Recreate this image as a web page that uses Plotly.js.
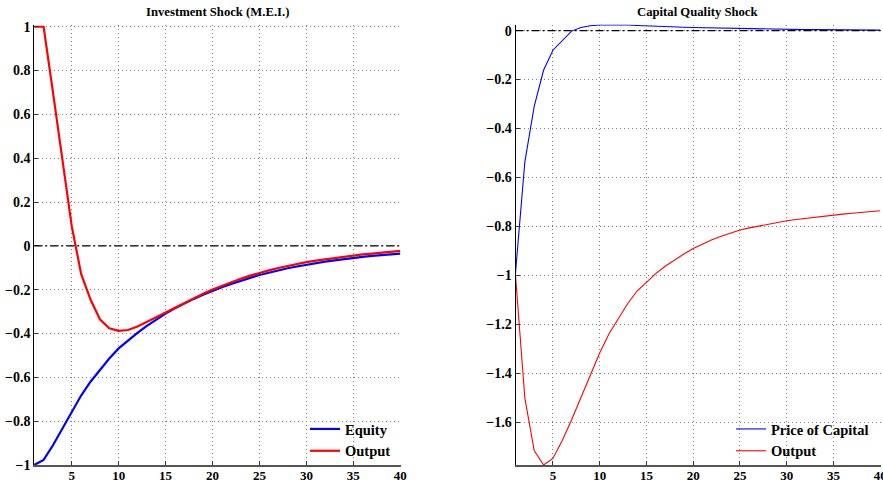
<!DOCTYPE html>
<html>
<head>
<meta charset="utf-8">
<script src="https://cdn.plot.ly/plotly-3.0.1.min.js"></script>
<style>html,body{margin:0;padding:0;background:#fff;}#chart{width:883px;height:485px;}</style>
</head>
<body>
<div id="chart"></div>
<script>
// Periods (quarters after shock)
const periods = [1,2,3,4,5,6,7,8,9,10,11,12,13,14,15,16,17,18,19,20,21,22,23,24,25,26,27,28,29,30,31,32,33,34,35,36,37,38,39,40];

// Investment Shock (M.E.I.)
const meiEquity = [-1.000,-0.977,-0.910,-0.833,-0.757,-0.683,-0.620,-0.565,-0.514,-0.468,
  -0.431,-0.397,-0.365,-0.335,-0.309,-0.285,-0.263,-0.242,-0.223,-0.205,
  -0.189,-0.174,-0.159,-0.146,-0.133,-0.122,-0.112,-0.102,-0.094,-0.086,
  -0.079,-0.072,-0.066,-0.060,-0.055,-0.050,-0.046,-0.042,-0.038,-0.035];
const meiOutput = [1.000,1.000,0.700,0.400,0.090,-0.128,-0.245,-0.335,-0.376,-0.388,
  -0.384,-0.368,-0.348,-0.326,-0.304,-0.282,-0.260,-0.239,-0.219,-0.199,
  -0.182,-0.166,-0.150,-0.136,-0.123,-0.112,-0.101,-0.091,-0.082,-0.074,
  -0.067,-0.061,-0.055,-0.049,-0.044,-0.039,-0.035,-0.031,-0.027,-0.023];

// Capital Quality Shock
const cqPriceCapital = [-0.990,-0.536,-0.310,-0.162,-0.080,-0.043,-0.002,0.013,0.020,0.023,
  0.024,0.024,0.023,0.021,0.019,0.018,0.016,0.015,0.014,0.013,
  0.012,0.011,0.010,0.009,0.008,0.008,0.007,0.007,0.006,0.005,
  0.005,0.004,0.004,0.004,0.003,0.003,0.003,0.002,0.002,0.002];
const cqOutput = [-1.000,-1.502,-1.716,-1.775,-1.748,-1.675,-1.590,-1.500,-1.406,-1.317,
  -1.239,-1.174,-1.115,-1.064,-1.027,-0.993,-0.963,-0.937,-0.913,-0.890,
  -0.871,-0.855,-0.840,-0.827,-0.815,-0.806,-0.798,-0.790,-0.783,-0.777,
  -0.772,-0.767,-0.762,-0.758,-0.754,-0.750,-0.746,-0.743,-0.739,-0.736];

const xTicks = [5,10,15,20,25,30,35,40];
const xTickLabels = ['5','10','15','20','25','30','35','40'];
const leftYTicks = [-1,-0.8,-0.6,-0.4,-0.2,0,0.2,0.4,0.6,0.8,1];
const leftYTickLabels = ['\u22121','\u22120.8','\u22120.6','\u22120.4','\u22120.2','0','0.2','0.4','0.6','0.8','1'];
const rightYTicks = [-1.6,-1.4,-1.2,-1,-0.8,-0.6,-0.4,-0.2,0];
const rightYTickLabels = ['\u22121.6','\u22121.4','\u22121.2','\u22121','\u22120.8','\u22120.6','\u22120.4','\u22120.2','0'];

const titles = ['Investment Shock (M.E.I.)', 'Capital Quality Shock'];

const W = 883, H = 485;
const FONT = '"Liberation Serif", "Times New Roman", serif';

const traces = [
  {x: periods, y: meiEquity, name: 'Equity', xaxis: 'x', yaxis: 'y', mode: 'lines',
   line: {color: '#0000ff', width: 2.2}, legend: 'legend'},
  {x: periods, y: meiOutput, name: 'Output', xaxis: 'x', yaxis: 'y', mode: 'lines',
   line: {color: '#ff0000', width: 2.2}, legend: 'legend'},
  {x: periods, y: cqPriceCapital, name: 'Price of Capital', xaxis: 'x2', yaxis: 'y2', mode: 'lines',
   line: {color: '#0000ff', width: 1.1}, legend: 'legend2'},
  {x: periods, y: cqOutput, name: 'Output', xaxis: 'x2', yaxis: 'y2', mode: 'lines',
   line: {color: '#ff0000', width: 1.1}, legend: 'legend2'}
];

const bold = arr => arr.map(s => '<b>' + s + '</b>');

function common(size) {
  return {showgrid: true, gridcolor: '#808080', griddash: '1px,3px', gridwidth: 1,
    ticks: 'inside', ticklen: 4, tickcolor: '#333', tickwidth: 1,
    tickfont: {family: FONT, size: size, color: '#000', weight: 700},
    zeroline: false, fixedrange: true, ticklabeloverflow: 'allow'};
}
function xAxis(domain, anchor) {
  return Object.assign(common(13), {domain: domain, anchor: anchor, range: [1, 40.06], tickmode: 'array',
    tickvals: xTicks, ticktext: bold(xTickLabels), ticklabelstandoff: -2,
    showline: true, linecolor: '#555', linewidth: 1.8});
}
function yAxis(domain, anchor, range, vals, labels) {
  return Object.assign(common(14), {domain: domain, anchor: anchor, range: range, tickmode: 'array',
    tickvals: vals, ticktext: bold(labels), showline: true, linecolor: '#000', linewidth: 1});
}

const leftX = [34.2 / W, 400.8 / W];
const rightX = [515.5 / W, 880.8 / W];

const layout = {
  width: W, height: H,
  margin: {l: 0, r: 0, t: 0, b: 0, pad: 0},
  paper_bgcolor: '#fff', plot_bgcolor: '#fff',
  font: {family: FONT, color: '#000', weight: 700},
  xaxis: xAxis(leftX, 'y'),
  yaxis: yAxis([20 / H, 459.6 / H], 'x', [-1, 1.006], leftYTicks, leftYTickLabels),
  xaxis2: xAxis(rightX, 'y2'),
  yaxis2: yAxis([20 / H, 460.5 / H], 'x2', [-1.775, 0.025], rightYTicks, rightYTickLabels),
  showlegend: true,
  legend: {x: 305 / W, xanchor: 'left', y: 1 - 413 / H, yanchor: 'top', bgcolor: 'rgba(0,0,0,0)',
    borderwidth: 0, font: {family: FONT, size: 14.5, color: '#000', weight: 700}, tracegroupgap: 0},
  legend2: {x: 731 / W, xanchor: 'left', y: 1 - 413 / H, yanchor: 'top', bgcolor: 'rgba(0,0,0,0)',
    borderwidth: 0, font: {family: FONT, size: 14.5, color: '#000', weight: 700}, tracegroupgap: 0},
  shapes: [
    {type: 'line', xref: 'x domain', yref: 'y', x0: 0, x1: 1, y0: 0, y1: 0,
     line: {color: '#000', width: 1.1, dash: '8px,3px,2px,3px'}, layer: 'above'},
    {type: 'line', xref: 'x2 domain', yref: 'y2', x0: 0, x1: 1, y0: 0, y1: 0,
     line: {color: '#000', width: 1.1, dash: '8px,3px,2px,3px'}, layer: 'above'}
  ],
  annotations: [
    {text: titles[0], xref: 'paper', yref: 'paper', x: (34.2 + 400.3) / 2 / W, y: 1 - 11.5 / H,
     xanchor: 'center', yanchor: 'middle', showarrow: false,
     font: {family: FONT, size: 12.7, color: '#000', weight: 700}},
    {text: titles[1], xref: 'paper', yref: 'paper', x: (515.5 + 880.3) / 2 / W, y: 1 - 11.5 / H,
     xanchor: 'center', yanchor: 'middle', showarrow: false,
     font: {family: FONT, size: 12.7, color: '#000', weight: 700}}
  ]
};

Plotly.newPlot('chart', traces, layout, {displayModeBar: false, staticPlot: true});
</script>
</body>
</html>
